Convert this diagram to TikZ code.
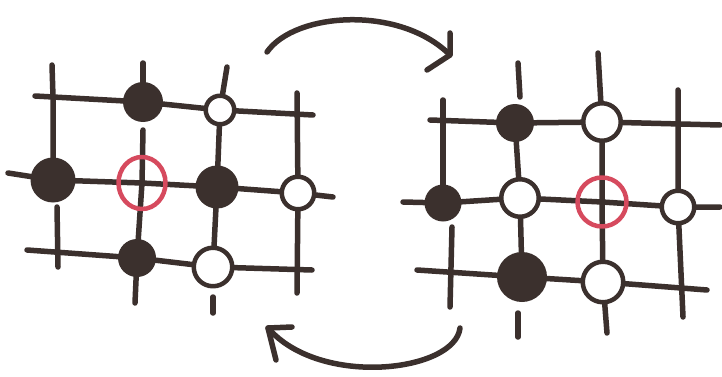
\documentclass[tikz,border=0pt]{standalone}
\usetikzlibrary{shapes.geometric}
\definecolor{ink}{HTML}{3B302D}
\definecolor{redink}{HTML}{D64A5E}
\begin{document}
\begin{tikzpicture}[x=1pt,y=-1pt,line cap=round,line join=round,
  gridline/.style={draw=ink,line width=5.5pt},
  bstone/.style={circle,fill=ink,inner sep=0pt},
  wstone/.style={circle,draw=ink,fill=white,line width=4.5pt,inner sep=0pt},
  redring/.style={ellipse,draw=redink,line width=4.5pt,inner sep=0pt}]
\useasboundingbox (0,0) rectangle (722,377);
% ---------- left board coordinates
\coordinate (a1) at (35,96);  \coordinate (l12) at (143,102); \coordinate (l13) at (220,110); \coordinate (a2) at (313,115);
\coordinate (b1) at (8,173);  \coordinate (l21) at (53,180); \coordinate (l22) at (142,183); \coordinate (l23) at (217,187); \coordinate (l24) at (298,193); \coordinate (b2) at (333,197);
\coordinate (c1) at (27,250); \coordinate (l32) at (137,258); \coordinate (l33) at (213,267); \coordinate (c2) at (312,270);
\coordinate (d1) at (52,65); \coordinate (d0) at (53,97); \coordinate (d2) at (57,207); \coordinate (d3) at (58,267);
\coordinate (e1) at (143,63); \coordinate (e2) at (143,130); \coordinate (e3) at (135,303);
\coordinate (f1) at (227,67); \coordinate (f2) at (213,297); \coordinate (f3) at (213,313);
\coordinate (g1) at (297,93); \coordinate (g2) at (297,293);
% ---------- right board coordinates
\coordinate (h1) at (430,120); \coordinate (r12) at (515,123); \coordinate (r13) at (602,122); \coordinate (h2) at (720,125);
\coordinate (i1) at (403,202); \coordinate (r21) at (443,203); \coordinate (r22) at (520,198); \coordinate (r23) at (602,202); \coordinate (r24) at (678,207); \coordinate (i2) at (720,207);
\coordinate (j1) at (417,270); \coordinate (r32) at (522,277); \coordinate (r33) at (603,282); \coordinate (j2) at (707,290);
\coordinate (k1) at (443,100); \coordinate (k2) at (452,227); \coordinate (k3) at (450,307);
\coordinate (m1) at (518,63); \coordinate (m2) at (520,97); \coordinate (m3) at (518,313); \coordinate (m4) at (518,337);
\coordinate (n1) at (598,53); \coordinate (n2) at (607,333);
\coordinate (o1) at (678,90); \coordinate (o2) at (683,317);
% ---------- left grid
\draw[gridline] (a1) -- (l12) -- (l13) -- (a2);
\draw[gridline] (b1) -- (l21) -- (l22) -- (l23) -- (l24) -- (b2);
\draw[gridline] (c1) -- (l32) -- (l33) -- (c2);
\draw[gridline] (d1) -- (d0) -- (l21);
\draw[gridline] (d2) -- (d3);
\draw[gridline] (e1) -- (l12);
\draw[gridline] (e2) -- (l22) -- (l32) -- (e3);
\draw[gridline] (f1) -- (l13) -- (l23) -- (l33);
\draw[gridline] (f2) -- (f3);
\draw[gridline] (g1) -- (l24) -- (g2);
% ---------- right grid
\draw[gridline] (h1) -- (r12) -- (r13) -- (h2);
\draw[gridline] (i1) -- (r21) -- (r22) -- (r23) -- (r24) -- (i2);
\draw[gridline] (j1) -- (r32) -- (r33) -- (j2);
\draw[gridline] (k1) -- (r21);
\draw[gridline] (k2) -- (k3);
\draw[gridline] (m1) -- (m2);
\draw[gridline] (r12) -- (r22) -- (r32);
\draw[gridline] (m3) -- (m4);
\draw[gridline] (n1) -- (r13) -- (r23) -- (r33) -- (n2);
\draw[gridline] (o1) -- (r24) -- (o2);
% ---------- left stones
\node[bstone,minimum size=40pt] (L12) at (l12) {};
\node[wstone,minimum size=28.5pt] (L13) at (l13) {};
\node[bstone,minimum size=45pt] (L21) at (l21) {};
\node[redring,minimum width=47pt,minimum height=52pt] (L22) at (l22) {};
\node[bstone,minimum size=43pt] (L23) at (l23) {};
\node[wstone,minimum size=32.5pt] (L24) at (l24) {};
\node[bstone,minimum size=38pt] (L32) at (l32) {};
\node[wstone,minimum size=38.5pt] (L33) at (l33) {};
% ---------- right stones
\node[bstone,minimum size=38pt] (R12) at (r12) {};
\node[wstone,minimum size=37.5pt] (R13) at (r13) {};
\node[bstone,minimum size=37pt] (R21) at (r21) {};
\node[wstone,minimum size=37.5pt] (R22) at (r22) {};
\node[redring,minimum width=49pt,minimum height=49pt] (R23) at (r23) {};
\node[wstone,minimum size=32.5pt] (R24) at (r24) {};
\node[bstone,minimum size=50pt] (R32) at (r32) {};
\node[wstone,minimum size=40.5pt] (R33) at (r33) {};
% ---------- arrows
\coordinate (ta) at (267,52); \coordinate (tb) at (450,55);
\coordinate (tu) at (450,33); \coordinate (tl) at (427,70);
\draw[gridline] (ta) .. controls (295,12) and (400,5) .. (tb);
\draw[gridline] (tu) -- (tb) -- (tl);
\coordinate (ba) at (460,328); \coordinate (bb) at (268,328);
\coordinate (bu) at (292,327); \coordinate (bl) at (276,360);
\draw[gridline] (ba) .. controls (455,372) and (320,388) .. (bb);
\draw[gridline] (bu) -- (bb) -- (bl);
\end{tikzpicture}
\end{document}
